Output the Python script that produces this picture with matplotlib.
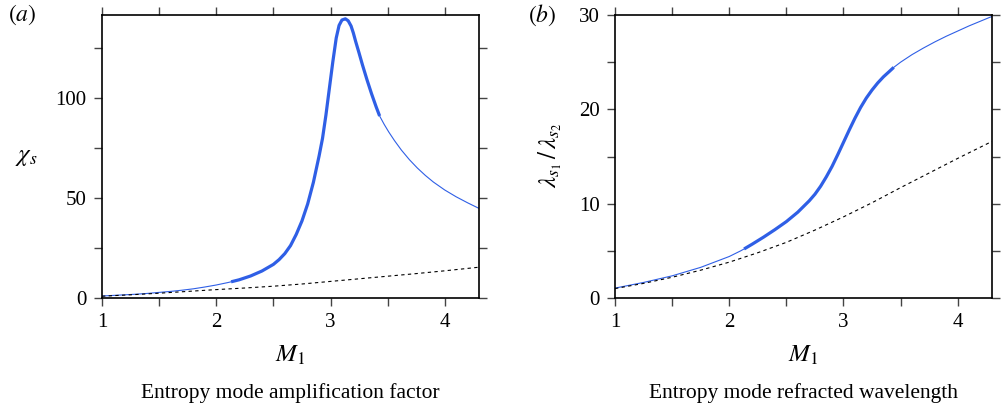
import numpy as np
import matplotlib
matplotlib.use("Agg")
import matplotlib.pyplot as plt

plt.rcParams['font.family'] = ['Liberation Serif', 'DejaVu Serif']
plt.rcParams['mathtext.fontset'] = 'stix'

# ---- data (a): entropy mode amplification factor ----
m_a = [1.0, 1.1, 1.2, 1.3, 1.4, 1.5, 1.6, 1.7, 1.8, 1.9, 2.0, 2.1, 2.13, 2.2, 2.3,
       2.4, 2.5, 2.55, 2.6, 2.65, 2.7, 2.75, 2.8, 2.85, 2.9, 2.93, 2.96, 2.99,
       3.02, 3.05, 3.075, 3.1, 3.13, 3.155, 3.18, 3.2, 3.22, 3.25, 3.28, 3.32,
       3.36, 3.4, 3.43, 3.47, 3.51, 3.56, 3.62, 3.69, 3.76, 3.83, 3.9, 4.0, 4.1,
       4.2, 4.3]
chi_a = [1.0, 1.3, 1.6, 1.9, 2.3, 2.8, 3.3, 3.9, 4.6, 5.5, 6.5, 7.7, 8.1, 9.1, 11.0,
         13.5, 16.8, 19.2, 22.2, 26.2, 31.8, 38.5, 47.0, 57.8, 71.0, 79.8, 91.5,
         104.8, 118.0, 130.0, 136.3, 139.0, 139.6, 138.6, 136.0, 132.5, 128.3,
         122.5, 116.5, 109.0, 102.0, 95.5, 91.0, 86.8, 83.0, 78.7, 74.0, 69.2,
         65.0, 61.3, 58.0, 54.0, 50.6, 47.6, 44.8]
m_a_ref = [1.0, 1.25, 1.5, 1.75, 2.0, 2.25, 2.5, 2.75, 3.0, 3.25, 3.5, 3.75, 4.0, 4.3]
chi_a_ref = [0.9, 1.6, 2.4, 3.3, 4.2, 5.0, 5.9, 7.0, 8.3, 9.6, 10.9, 12.2, 13.6, 15.4]

# ---- data (b): entropy mode refracted wavelength ----
m_b = [1.0, 1.25, 1.5, 1.75, 2.0, 2.1, 2.13, 2.2, 2.3, 2.4, 2.5, 2.6, 2.7, 2.75,
       2.8, 2.85, 2.9, 2.95, 3.0, 3.05, 3.1, 3.15, 3.2, 3.25, 3.3, 3.35, 3.4,
       3.44, 3.5, 3.6, 3.7, 3.8, 3.9, 4.0, 4.1, 4.2, 4.3]
lam_b = [1.05, 1.65, 2.35, 3.25, 4.4, 5.0, 5.2, 5.7, 6.45, 7.25, 8.1, 9.1, 10.3,
         11.0, 11.85, 12.85, 13.95, 15.2, 16.5, 17.8, 19.05, 20.2, 21.2, 22.05,
         22.8, 23.45, 24.0, 24.45, 25.0, 25.8, 26.5, 27.15, 27.75, 28.3, 28.85,
         29.35, 29.85]
m_b_ref = [1.0, 1.25, 1.5, 1.75, 2.0, 2.25, 2.5, 2.75, 3.0, 3.25, 3.5, 3.75, 4.0, 4.3]
lam_b_ref = [1.0, 1.55, 2.2, 2.95, 3.8, 4.8, 5.9, 7.2, 8.6, 10.1, 11.7, 13.25, 14.8, 16.6]

thick_lo_a, thick_hi_a = 2.13, 3.43
thick_lo_b, thick_hi_b = 2.13, 3.44

blue = '#2f5fe6'

fig = plt.figure(figsize=(10.03, 4.08), dpi=100)
ax1 = fig.add_axes([0.1017, 0.2696, 0.3759, 0.6936])
ax2 = fig.add_axes([0.6132, 0.2696, 0.3758, 0.6936])


def draw(ax, m, v, mr, vr, lo, hi):
    m = np.asarray(m); v = np.asarray(v)
    ax.plot(m, v, color=blue, lw=0.8, solid_joinstyle='round')
    sel = (m >= lo) & (m <= hi)
    ax.plot(m[sel], v[sel], color=blue, lw=2.3, solid_capstyle='butt',
            solid_joinstyle='round')
    ax.plot(mr, vr, color='black', lw=0.8, dashes=(3, 3))


draw(ax1, m_a, chi_a, m_a_ref, chi_a_ref, thick_lo_a, thick_hi_a)
draw(ax2, m_b, lam_b, m_b_ref, lam_b_ref, thick_lo_b, thick_hi_b)

ax1.set_xlim(1, 4.3)
ax1.set_ylim(0, 141.5)
ax2.set_xlim(1, 4.3)
ax2.set_ylim(0, 30)

xt = np.arange(1, 4.31, 0.5)
for ax, yt, ylab in [(ax1, np.arange(0, 141, 25), [0, 50, 100]),
                     (ax2, np.arange(0, 31, 5), [0, 10, 20, 30])]:
    ax.set_xticks(xt)
    ax.set_xticklabels([str(int(t)) if float(t).is_integer() else '' for t in xt])
    ax.set_yticks(yt)
    ax.set_yticklabels([str(int(t)) if t in ylab else '' for t in yt])
    ax.tick_params(direction='out', length=6, width=1.0, color='#444444',
                   labelsize=15, top=True, right=True, pad=5)
    for s in ax.spines.values():
        s.set_linewidth(1.2)

fig.text(0.008, 0.963, r'$(a)$', fontsize=17, ha='left', va='center')
fig.text(0.526, 0.963, r'$(b)$', fontsize=17, ha='left', va='center')
fig.text(0.026, 0.615, r'$\chi_s$', fontsize=18, ha='center', va='center')
fig.text(0.549, 0.62, r'$\lambda_{s_1}\,/\,\lambda_{s_2}$', fontsize=18,
         ha='center', va='center', rotation=90)
fig.text(0.2896, 0.13, r'$M_1$', fontsize=18, ha='center', va='center')
fig.text(0.801, 0.13, r'$M_1$', fontsize=18, ha='center', va='center')
fig.text(0.2896, 0.037, 'Entropy mode amplification factor', fontsize=15.5,
         ha='center', va='center')
fig.text(0.801, 0.037, 'Entropy mode refracted wavelength', fontsize=15.5,
         ha='center', va='center')

fig.savefig('out.png', dpi=100)
